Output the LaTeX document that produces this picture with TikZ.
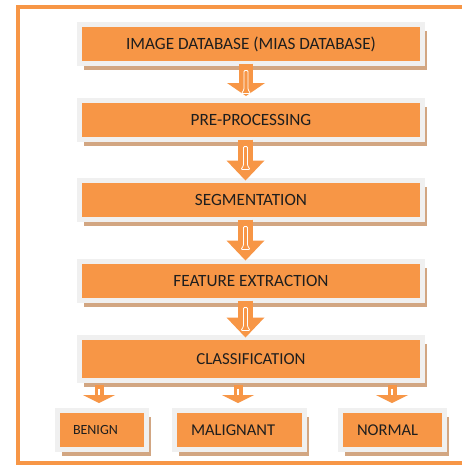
\documentclass[tikz,border=0pt]{standalone}
\usepackage{fontspec}
\setmainfont{Carlito}
\usetikzlibrary{arrows.meta,shadows,calc}
\definecolor{boxorange}{RGB}{247,150,70}
\definecolor{boxgray}{RGB}{240,240,240}
\definecolor{shadowtan}{RGB}{210,166,130}
\definecolor{textdark}{RGB}{30,30,30}
\tikzset{
  flowbox/.style={fill=boxorange, draw=boxgray, line width=5pt, outer sep=0pt,
    text=textdark, font=\fontsize{16.5}{18}\selectfont,
    general shadow={fill=shadowtan, shadow xshift=4pt, shadow yshift=-6.5pt}},
  mainbox/.style={flowbox, minimum width=343pt, minimum height=39pt, inner sep=0pt,
    font=\fontsize{17.2}{19}\selectfont},
  leafbox/.style={flowbox, minimum height=39pt, align=left, inner ysep=0pt},
  bigarrow/.style={draw=boxorange, line width=14pt,
    -{Triangle[width=38pt,length=#1,line width=0pt,fill=boxorange]}},
  smallarrow/.style={draw=boxorange, line width=9pt,
    -{Triangle[width=32pt,length=8pt,line width=0pt,fill=boxorange]}},
  gloss/.style={draw=white, line width=0.8pt, rounded corners=1pt}
}
\begin{document}
\begin{tikzpicture}[x=1pt,y=-1pt]
\fill[white] (0,0) rectangle (462,466);
\useasboundingbox (0,0) rectangle (462,466);
% outer frame: open on the right, running out of the picture
\draw[boxorange, line width=4pt] (462,7) -- (17.5,7) -- (17.5,462.5) -- (462,462.5);
% main boxes
\node[mainbox] (b1) at (251,44) {IMAGE DATABASE (MIAS DATABASE)};
\node[mainbox] (b2) at (251,120) {PRE-PROCESSING};
\node[mainbox] (b3) at (251,200) {SEGMENTATION};
\node[mainbox] (b4) at (251,281) {FEATURE EXTRACTION};
\node[mainbox, minimum height=43pt, font=\fontsize{16.8}{19}\selectfont] (b5) at (251,359) {CLASSIFICATION};
% leaf boxes
\node[leafbox, inner xsep=15.5pt, text width=58pt, font=\fontsize{14}{16}\selectfont] (benign) at (102,430) {BENIGN};
\node[leafbox, inner xsep=16.5pt, text width=97pt] (malig) at (239.5,430) {MALIGNANT};
\node[leafbox, inner xsep=16.5pt, text width=71pt] (normal) at (392.5,430) {NORMAL};
% block arrows
\draw[bigarrow=13pt, shorten >=4.5pt] ($(b1.south)+(-5,0)$) -- ($(b2.north)+(-5,0)$);
\draw[bigarrow=20pt, line width=15pt] ($(b2.south)+(-5.5,0)$) -- ($(b3.north)+(-5.5,0)$);
\draw[bigarrow=20pt, line width=15pt, shorten >=1pt] ($(b3.south)+(-5.5,0)$) -- ($(b4.north)+(-5.5,0)$);
\draw[bigarrow=20pt, line width=15pt] ($(b4.south)+(-5.5,0)$) -- ($(b5.north)+(-5.5,0)$);
% gloss highlights
\foreach \b/\dx in {b1/-5,b2/-5.5,b3/-5.5,b4/-5.5}{
  \draw[gloss] ($(\b.south)+(\dx-2,7)$) -- ($(\b.south)+(\dx-2,26)$) -- ($(\b.south)+(\dx-4.5,30)$)
    -- ($(\b.south)+(\dx+4.5,30)$) -- ($(\b.south)+(\dx+2,26)$) -- ($(\b.south)+(\dx+2,7)$) -- cycle;
}
% small arrows
\draw[smallarrow, shorten <=4pt, shorten >=7.5pt] ($(b5.south -| benign.north)+(-3,0)$) -- ($(benign.north)+(-3,0)$);
\draw[smallarrow, shorten <=4pt, shorten >=7.5pt] ($(b5.south -| malig.north)+(-1.5,0)$) -- ($(malig.north)+(-1.5,0)$);
\draw[smallarrow, shorten <=4pt, shorten >=7.5pt] ($(b5.south -| normal.north)+(-0.5,0)$) -- ($(normal.north)+(-0.5,0)$);
\foreach \n/\dx in {benign/-3,malig/-1.5,normal/-0.5}{
  \draw[white, line width=1.5pt] ($(b5.south -| \n.north)+(\dx,8)$) -- ($(b5.south -| \n.north)+(\dx,14)$);
}
\end{tikzpicture}
\end{document}
